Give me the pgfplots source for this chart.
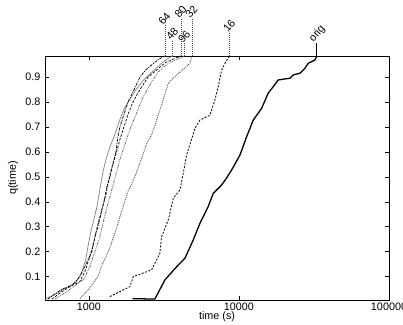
\documentclass[border=0pt]{standalone}
\usepackage{pgfplots}
\pgfplotsset{compat=1.18}
\usepackage{fontspec}
\setmainfont{Liberation Sans}
\begin{document}
\begin{tikzpicture}
\begin{axis}[
  at={(0pt,0pt)}, anchor=south west,
  scale only axis, width=344pt, height=244pt,
  xmode=log, log basis x=10,
  xmin=510, xmax=100000, ymin=0.0064, ymax=0.985,
  xtick={1000,10000,100000}, xticklabels={1000,10000,100000},
  ytick={0.1,0.2,0.3,0.4,0.5,0.6,0.7,0.8,0.9},
  yticklabels={0.1,0.2,0.3,0.4,0.5,0.6,0.7,0.8,0.9},
  tick align=inside, major tick length=4pt, minor tick length=2pt,
  tick style={black, line width=0.6pt},
  axis line style={line width=0.8pt},
  font=\fontsize{10.8}{12}\selectfont,
  xlabel={time (s)}, ylabel={q(time)},
  xlabel style={at={(axis description cs:0.5,0)}, anchor=center, yshift=-17pt},
  ylabel style={at={(axis description cs:-0.093,0.5)}, anchor=center},
  xticklabel style={yshift=1pt},
  yticklabel style={xshift=-1pt},
  clip=false,
]
% orig
\addplot[black, line width=1.3pt] coordinates {
(1960,0.012) (2750,0.010) (3211,0.087) (3846,0.140) (4365,0.174) (4959,0.247)
(5495,0.314) (6237,0.381) (6745,0.434) (7674,0.468) (8279,0.496) (8938,0.528)
(10160,0.588) (11250,0.661) (12450,0.728) (14160,0.775) (15670,0.836) (16930,0.862)
(18280,0.889) (21880,0.896) (23010,0.909) (25510,0.916) (27540,0.936) (28970,0.956)
(32110,0.969) (33000,0.985)};
% 16
\addplot[black, line width=0.8pt, dash pattern=on 2pt off 1.5pt] coordinates {
(1380,0.020) (1876,0.060) (1974,0.100) (2617,0.127) (2972,0.194) (3052,0.260)
(3379,0.327) (3648,0.414) (4045,0.448) (4256,0.515) (4481,0.588) (5093,0.695)
(5495,0.728) (6412,0.748) (6918,0.809) (7278,0.862) (7668,0.929) (8072,0.956) (8670,0.985)};
% 32
\addplot[black!70, line width=0.8pt, dash pattern=on 1pt off 1pt] coordinates {
(871,0.012) (1000,0.050) (1148,0.100) (1216,0.143) (1380,0.215) (1514,0.287)
(1660,0.367) (1820,0.440) (2027,0.501) (2222,0.568) (2436,0.635) (2618,0.668)
(2754,0.708) (3052,0.789) (3382,0.876) (3846,0.909) (4713,0.956) (4860,0.985)};
% 48
\addplot[black!50, line width=0.7pt] coordinates {
(509,0.010) (621,0.035) (702,0.055) (819,0.075) (898,0.120) (955,0.170) (985,0.220)
(1031,0.280) (1080,0.330) (1131,0.380) (1184,0.450) (1240,0.520) (1299,0.570)
(1380,0.620) (1491,0.670) (1585,0.720) (1711,0.770) (1876,0.810) (2057,0.850)
(2326,0.890) (2630,0.920) (2973,0.950) (3261,0.970) (3614,0.985)};
% 64
\addplot[black, line width=0.7pt, dash pattern=on 3pt off 1pt on 1pt off 1pt] coordinates {
(533,0.010) (593,0.030) (661,0.050) (770,0.065) (871,0.100) (955,0.150) (1047,0.200)
(1096,0.260) (1148,0.300) (1202,0.350) (1259,0.400) (1318,0.460) (1380,0.500)
(1445,0.550) (1514,0.600) (1561,0.660) (1609,0.700) (1711,0.750) (1820,0.800)
(1965,0.840) (2188,0.900) (2399,0.930) (2630,0.950) (2884,0.970) (3211,0.985)};
% 80
\addplot[black, line width=0.7pt, dash pattern=on 2.5pt off 1.5pt] coordinates {
(567,0.010) (661,0.040) (747,0.060) (871,0.080) (940,0.120) (1015,0.180) (1080,0.240)
(1148,0.310) (1221,0.370) (1299,0.430) (1359,0.490) (1423,0.540) (1514,0.590)
(1609,0.650) (1711,0.700) (1820,0.750) (1965,0.800) (2188,0.850) (2474,0.900)
(2840,0.930) (3261,0.960) (4107,0.985)};
% 96
\addplot[black!60, line width=0.7pt, dash pattern=on 3pt off 1pt on 1pt off 1pt on 1pt off 1pt] coordinates {
(593,0.010) (692,0.035) (794,0.060) (926,0.090) (1015,0.140) (1096,0.200) (1184,0.260)
(1259,0.330) (1338,0.390) (1423,0.450) (1514,0.510) (1609,0.570) (1738,0.630)
(1876,0.690) (2057,0.750) (2256,0.810) (2551,0.870) (2884,0.920) (3363,0.955) (4345,0.985)};
% connectors
\addplot[black!70, line width=0.6pt, dash pattern=on 1pt off 1pt] coordinates {(3211,0.985) (3211,1.109)};
\addplot[black!70, line width=0.6pt, dash pattern=on 1pt off 1pt] coordinates {(3614,0.985) (3614,1.049)};
\addplot[black!70, line width=0.6pt, dash pattern=on 1pt off 1pt] coordinates {(4107,0.985) (4107,1.137)};
\addplot[black!70, line width=0.6pt, dash pattern=on 1pt off 1pt] coordinates {(4345,0.985) (4345,1.037)};
\addplot[black!70, line width=0.6pt, dash pattern=on 1pt off 1pt] coordinates {(4860,0.985) (4860,1.137)};
\addplot[black!70, line width=0.6pt, dash pattern=on 1pt off 1pt] coordinates {(8670,0.985) (8670,1.081)};
\addplot[black, line width=0.8pt] coordinates {(33000,0.985) (33000,1.037)};
\node[rotate=50, anchor=south west, inner sep=0.3pt, xshift=-2pt] at (axis cs:3211,1.109) {64};
\node[rotate=50, anchor=south west, inner sep=0.3pt, xshift=-2pt] at (axis cs:3614,1.049) {48};
\node[rotate=50, anchor=south west, inner sep=0.3pt, xshift=-2pt] at (axis cs:4107,1.137) {80};
\node[rotate=50, anchor=south west, inner sep=0.3pt, xshift=-2pt] at (axis cs:4345,1.037) {96};
\node[rotate=50, anchor=south west, inner sep=0.3pt, xshift=-2pt] at (axis cs:4860,1.137) {32};
\node[rotate=50, anchor=south west, inner sep=0.3pt, xshift=-2pt] at (axis cs:8670,1.081) {16};
\node[rotate=50, anchor=south west, inner sep=0.3pt, xshift=-2pt] at (axis cs:33000,1.037) {orig};
\end{axis}
\pgfresetboundingbox
\path[use as bounding box] (-45pt,-24pt) rectangle (358pt,300pt);
\end{tikzpicture}
\end{document}
